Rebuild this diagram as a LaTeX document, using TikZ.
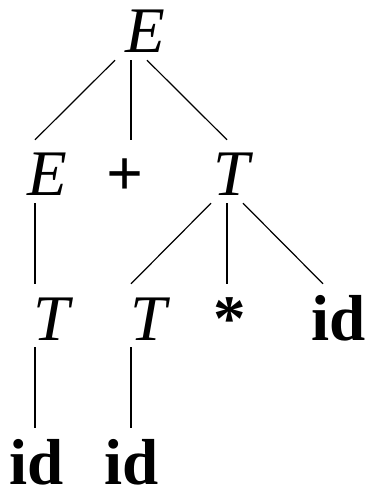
\documentclass[tikz,border=0pt]{standalone}
\usepackage{fontspec}
\setmainfont{Liberation Serif}
\usepackage{tikz}

\begin{document}
\begin{tikzpicture}[
  x=1pt, y=-1pt,
  sym/.style={anchor=base, inner xsep=0pt, inner ysep=7pt, text height=49pt, text depth=0pt,
    font=\fontsize{65}{78}\selectfont},
  nonterm/.style={sym, font=\fontsize{65}{78}\selectfont\itshape},
  term/.style={sym, font=\fontsize{65}{78}\selectfont\bfseries},
  leaf/.style={term, inner ysep=0pt, text height=56pt},
  edge/.style={line width=1.2pt}
]
\useasboundingbox (0,0) rectangle (368,486);
% nodes
\node[nonterm] (e0) at (145,53) {E};
\node[nonterm] (e1) at (47,196) {E};
\node[term] (plus) at (125,196) {+};
\node[nonterm] (t1) at (232,196) {T};
\node[nonterm] (t2) at (52,340) {T};
\node[nonterm] (t3) at (149,340) {T};
\node[term] (star) at (230,340) {*};
\node[term] (id1) at (339,340) {id};
\node[leaf] (id2) at (37,484) {id};
\node[leaf] (id3) at (132,484) {id};
% edges
\draw[edge] ([xshift=-30pt]e0.south) -- ([xshift=-12pt]e1.north);
\draw[edge] ([xshift=-14pt]e0.south) -- ([xshift=6pt]plus.north);
\draw[edge] ([xshift=2pt]e0.south) -- ([xshift=-5pt]t1.north);
\draw[edge] ([xshift=-12pt]e1.south) -- ([xshift=-17pt]t2.north);
\draw[edge] ([xshift=-21pt]t1.south) -- ([xshift=-18pt]t3.north);
\draw[edge] ([xshift=-5pt]t1.south) -- ([xshift=-3pt]star.north);
\draw[edge] ([xshift=11pt]t1.south) -- ([xshift=-16pt]id1.north);
\draw[edge] ([xshift=-17pt]t2.south) -- ([xshift=-2pt]id2.north);
\draw[edge] ([xshift=-18pt]t3.south) -- ([xshift=-1pt]id3.north);
\end{tikzpicture}
\end{document}
